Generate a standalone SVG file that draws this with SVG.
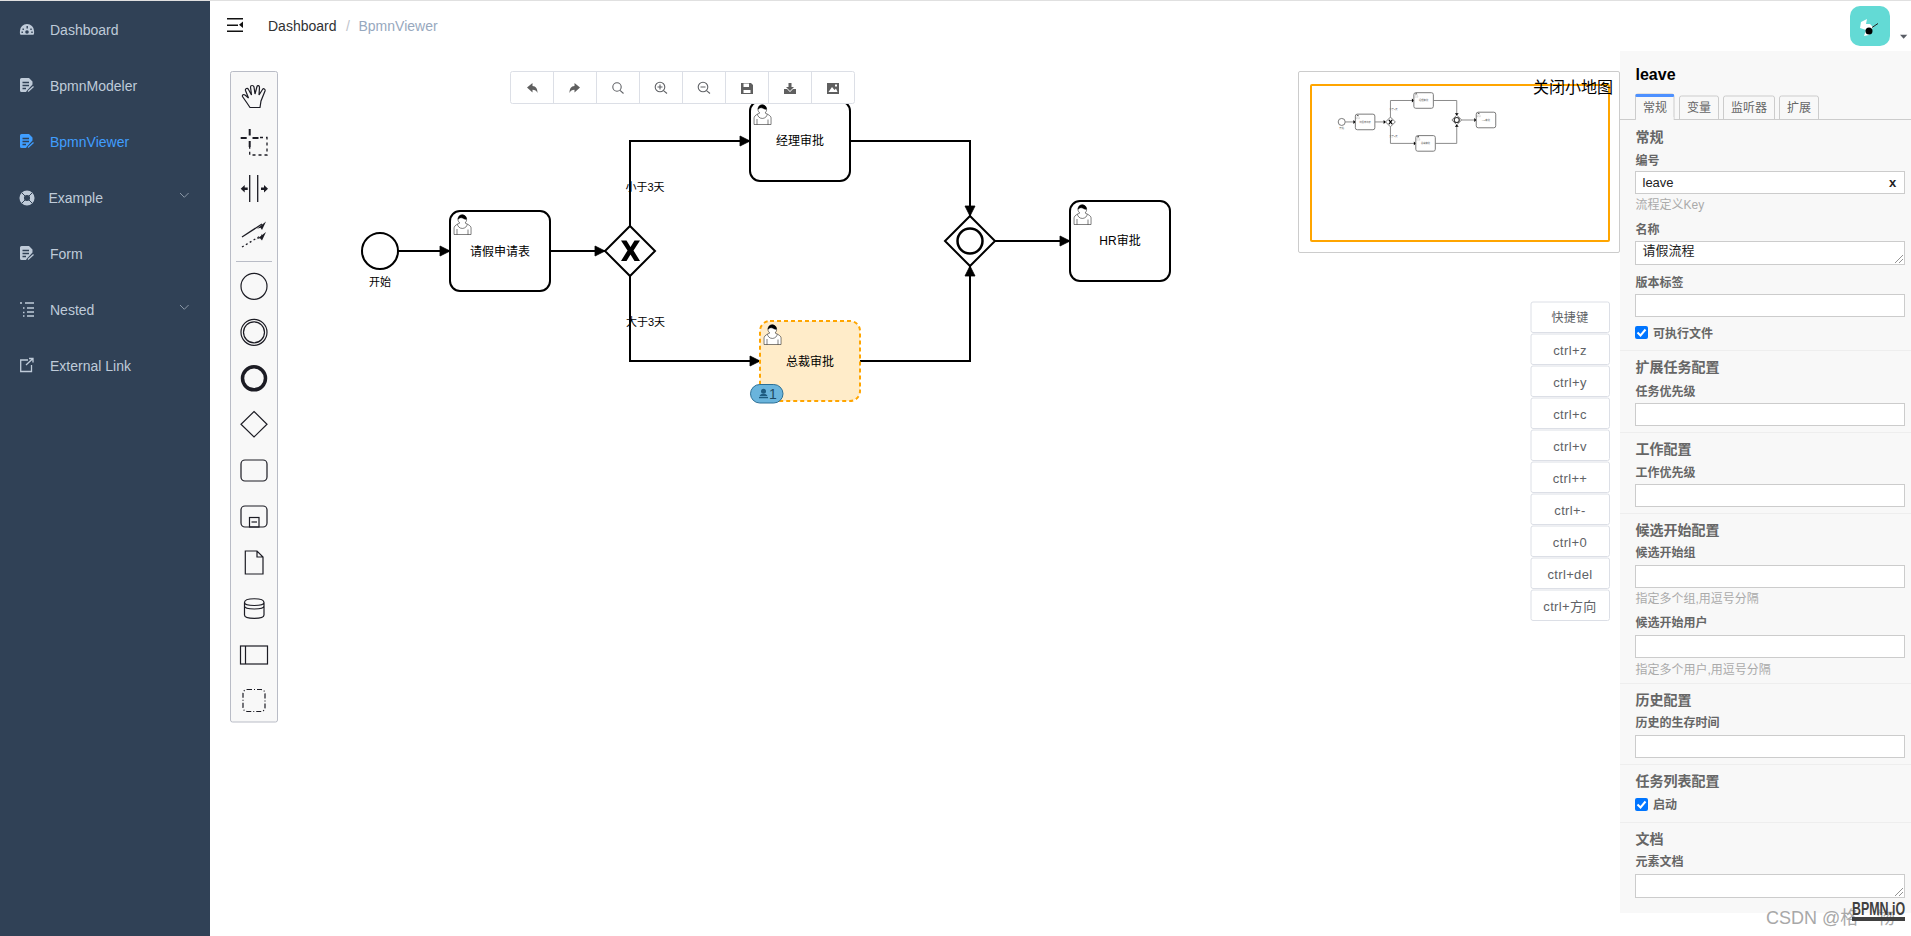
<svg xmlns="http://www.w3.org/2000/svg" xmlns:xlink="http://www.w3.org/1999/xlink" width="1911" height="936" viewBox="0 0 1911 936">
<style>
text{font-family:"Liberation Sans","Noto Sans CJK SC",sans-serif}
.nav{font-size:14px;fill:#bfcbd9}
.task{fill:#fff;stroke:#000;stroke-width:2}
.lb{font-size:12px;fill:#000;text-anchor:middle}
.lb11{font-size:11px;fill:#000;text-anchor:middle}
.conn{fill:none;stroke:#000;stroke-width:2;marker-end:url(#arrow)}
.ico{fill:none;stroke:#1c1c24;stroke-width:1.2}
.tb{fill:#5f5f5f}
.tbs{fill:none;stroke:#606266;stroke-width:1.1}
.sk{fill:#fff;stroke:#dcdfe6;stroke-width:1}
.skt{font-size:13px;fill:#606266;text-anchor:middle;letter-spacing:.35px}
.gh{font-size:14px;font-weight:bold;fill:#666}
.fl{font-size:12px;font-weight:bold;fill:#666}
.hint{font-size:12px;fill:#aaa}
.inp{fill:#fff;stroke:#ccc;stroke-width:1}
.div{stroke:#eee;stroke-width:1}
.tab{fill:#f8f8f8;stroke:#ccc;stroke-width:1}
.tabt{font-size:12px;fill:#666;text-anchor:middle}
.mini{fill:#fff;stroke:#777;stroke-width:5}
.minic{fill:none;stroke:#888;stroke-width:5}
.minit{font-size:12px;fill:#666;text-anchor:middle}
</style>
<defs>
<marker id="arrow" viewBox="0 0 20 20" markerUnits="userSpaceOnUse" markerWidth="20" markerHeight="20" refX="11" refY="10" orient="auto"><path d="M1 5L11 10L1 15Z" fill="#000" stroke="#000" stroke-width=".8"/></marker>
<marker id="miniarrow" viewBox="0 0 20 20" markerUnits="userSpaceOnUse" markerWidth="20" markerHeight="20" refX="11" refY="10" orient="auto"><path d="M1 5L11 10L1 15Z" fill="#000" stroke="#000"/></marker>
<g id="user">
<path fill="#fff" stroke="#000" stroke-width=".5" d="m0 0c.909-.845 1.594-2.049 1.594-3.385 0-2.554-1.805-4.622-4.357-4.622-2.552 0-4.288 2.068-4.288 4.622 0 1.348.974 2.562 1.896 3.405-.529.187-5.669 2.097-5.794 4.756v6.718h17v-6.718c0-2.298-5.528-4.595-6.051-4.776zm-8 6l0 5.5m11 0l0-5"/>
<path fill="#fff" stroke="#000" stroke-width=".5" d="m2.162 1.009c0 2.447-2.158 4.431-4.821 4.431-2.665 0-4.822-1.981-4.822-4.431"/>
<path fill="#000" stroke="#000" stroke-width=".5" d="m-6.9-3.8c0 0 2.251-2.358 4.274-1.177 2.024 1.181 4.221 1.537 4.124.965-.098-.57-.117-3.791-4.191-4.136-3.575.001-4.208 3.367-4.207 4.348z"/>
</g>
<g id="doc"><path fill="#bfcbd9" d="M0 1.5A1.5 1.5 0 0 1 1.5 0H9l3.5 3.5V6.5L7 12.5 6 14H1.5A1.5 1.5 0 0 1 0 12.5Z"/><path stroke="#304156" stroke-width="1.4" d="M2.5 4.5H9M2.5 7.5H9M2.5 10.5H6"/><path stroke="#bfcbd9" stroke-width="1.3" d="M8 13.5L13.5 8.5"/></g>
</defs>

<rect width="1911" height="936" fill="#fff"/>
<rect width="1911" height="1" fill="#e0e0e0"/>

<g id="sidebar">
<rect y="1" width="210" height="935" fill="#304156"/>
<g id="nav-dashboard"><path fill="#bfcbd9" d="M20.500 34.700c-1-1.500-.5-3-.5-4a7 6.700 0 0 1 14 0c0 1 .5 2.500-.5 4Z"/><path fill="#304156" d="M26.500 26h1.400v2.500h-1.400zM22.500 28.500h1.400v1.400h-1.400zM30.300 28.500h1.400v1.400h-1.400zM21.500 31.500h1.400v1.400h-1.400zM31.300 31.500h1.400v1.400h-1.400z"/><circle cx="27" cy="32" r="1.800" fill="#304156"/><text class="nav" x="50" y="35">Dashboard</text></g>
<g id="nav-modeler"><use href="#doc" x="20" y="78"/><text class="nav" x="50" y="91">BpmnModeler</text></g>
<g id="nav-viewer"><path fill="#409eff" d="M20 135.500A1.500 1.500 0 0 1 21.500 134H29l3.500 3.500V140.500L27 146.500 26 148H21.500A1.500 1.500 0 0 1 20 146.500Z"/><path stroke="#304156" stroke-width="1.400" d="M22.500 138.500H29M22.500 141.500H29M22.500 144.500H26"/><path stroke="#409eff" stroke-width="1.300" d="M28 147.500L33.500 142.500"/><text class="nav" x="50" y="147" style="fill:#409eff">BpmnViewer</text></g>
<g id="nav-example"><circle cx="27" cy="198" r="5.300" fill="none" stroke="#bfcbd9" stroke-width="4.500"/><path stroke="#304156" stroke-width="1" d="M22 193l3 3M32 193l-3 3M22 203l3-3M32 203l-3-3"/><text class="nav" x="48.500" y="203">Example</text><path fill="none" stroke="#8a97a6" stroke-width="1" d="M180 193l4.300 4.300 4.300-4.300"/></g>
<g id="nav-form"><use href="#doc" x="20" y="246"/><text class="nav" x="50" y="259">Form</text></g>
<g id="nav-nested"><path stroke="#bfcbd9" stroke-width="1.500" d="M20 303h2M25 303h9M27 308h7M27 312h7M27 316h7M23 308h1.500M23 312.500h1.500M23 316h1.500" fill="none"/><text class="nav" x="50" y="315">Nested</text><path fill="none" stroke="#8a97a6" stroke-width="1" d="M180 305l4.300 4.300 4.300-4.300"/></g>
<g id="nav-external"><path fill="none" stroke="#bfcbd9" stroke-width="1.300" d="M31.500 365v6.500H20.700V360H28M26 365l7-6.500M29 358.500h4v4"/><text class="nav" x="50" y="371">External Link</text></g>
</g>

<g id="header">
<path fill="#111" d="M227 18h16v1.500h-16zM227 24.500h11v1.500h-11zM227 30.500h16v1.500h-16zM243 21.500v6.500l-4-3.200z"/>
<text x="268" y="31" font-size="14" fill="#303133">Dashboard</text>
<text x="346" y="31" font-size="14" fill="#c0c4cc">/</text>
<text x="358.500" y="31" font-size="14" fill="#97a8be">BpmnViewer</text>
<g id="avatar"><rect x="1850" y="6" width="40" height="40" rx="10" fill="#63dad5"/><path fill="#fff" d="M1861 22L1867 19 1866 24 1870 24 1873 27 1869 35 1864 36 1866 30 1860 28Z"/><circle cx="1869" cy="31" r="3.500" fill="#000"/><path stroke="#222" stroke-width="1" d="M1872 27.500l6-4"/></g>
<path fill="#5a5e66" d="M1900 34.700h7.300l-3.650 4z"/>
</g>

<g id="palette">
<rect x="230.500" y="71.500" width="47" height="650.500" rx="2" fill="#f8f8f8" stroke="#b9bcc6"/>
<path class="ico" d="M250 107.500L247 103 242.500 96.500C242 95 243.500 94 245 95L248.500 98 245.500 90.500C245 88.500 247.500 87.500 248.500 89.500L251.500 95 250.500 87C250.500 85 253.500 85 254 87L255 94 257 86.500C257.500 85 259.500 85.500 259.500 87.500L259 95 262.500 89.500C263.500 88 265.500 89 265 91L261 101 260 107.500Z"/>
<path fill="none" stroke="#1c1c24" stroke-width="2" d="M240.700 138h6M252.500 138h6M249.700 129v6.500M249.700 141v6"/>
<path fill="none" stroke="#1c1c24" stroke-width="1.300" stroke-dasharray="3 3" d="M260 137.500H267V155H249.700V147"/>
<path fill="none" stroke="#1c1c24" stroke-width="1.300" d="M249.700 175V202M257.700 175V202"/>
<path fill="#1c1c24" d="M240.700 188.700l4-3.700v2.500h3v2.500h-3v2.500zM268 188.700l-4-3.700v2.500h-3v2.500h3v2.500z"/>
<path fill="none" stroke="#1c1c24" stroke-width="1.300" d="M242 237L262 224"/>
<path fill="#1c1c24" d="M266 221.500l-4 8.500-1.500-2.300-3.500 1z"/>
<path fill="none" stroke="#1c1c24" stroke-width="1.300" stroke-dasharray="2 2.500" d="M242 247L262 235"/>
<path fill="#1c1c24" d="M266 232l-4 8.500-2-2.300-3.500 1z"/>
<path stroke="#b9bcc6" d="M236 261.500H272"/>
<circle class="ico" cx="254" cy="286.300" r="13"/>
<circle class="ico" cx="254" cy="332.300" r="13"/><circle class="ico" cx="254" cy="332.300" r="10.500"/>
<circle class="ico" cx="254" cy="378.300" r="11.500" style="stroke-width:3.500"/>
<path class="ico" d="M254 411.500L267 424.300 254 437 241 424.300Z"/>
<rect class="ico" x="241" y="460" width="26" height="21" rx="4"/>
<rect class="ico" x="241" y="506" width="26" height="21" rx="4"/><rect class="ico" x="249.500" y="517.500" width="9.500" height="9.500"/><path class="ico" d="M251.500 522H257"/>
<path class="ico" d="M245.300 551H257L263 557V574H245.300ZM257 551V557H263"/>
<path class="ico" d="M244.500 602.500C244.500 597.500 264 597.500 264 602.500V615C264 619.500 244.500 619.500 244.500 615ZM244.500 602.500C244.500 606.500 264 606.500 264 602.500M244.500 606C244.500 610 264 610 264 606"/>
<rect class="ico" x="240.500" y="646" width="27" height="18"/><path class="ico" d="M245.500 646V664"/>
<rect class="ico" x="243" y="689.500" width="22" height="22" rx="4" stroke-dasharray="5 2 1 2"/>
</g>

<g id="connectors">
<path class="conn" d="M398 251H450"/>
<path class="conn" d="M550 251H605"/>
<path class="conn" d="M630 226V141H750"/>
<path class="conn" d="M630 276V361H760"/>
<path class="conn" d="M850 141H970V216"/>
<path class="conn" d="M860 361H970V266"/>
<path class="conn" d="M995 241H1070"/>
</g>

<g id="label-lt"><text class="lb11" x="645" y="191">小于3天</text></g>
<g id="label-gt"><text class="lb11" x="645.500" y="326">大于3天</text></g>

<g id="node-start"><circle cx="380" cy="251" r="18" fill="#fff" stroke="#000" stroke-width="2"/><text class="lb11" x="380" y="286">开始</text></g>
<g id="node-apply"><rect class="task" x="450" y="211" width="100" height="80" rx="10"/><use href="#user" x="465" y="223"/><text class="lb" x="500" y="255.500">请假申请表</text></g>
<g id="node-xor"><path d="M630 226L655 251 630 276 605 251Z" fill="#fff" stroke="#000" stroke-width="2"/><path fill="#000" d="M621 240.500H626.500L630.500 247 634.500 240.500H640L633.500 250.500 640 261H634.500L630.500 254.500 626.500 261H621L627.500 250.500Z"/></g>
<g id="node-manager"><rect class="task" x="750" y="101" width="100" height="80" rx="10"/><use href="#user" x="765" y="113"/><text class="lb" x="800" y="145">经理审批</text></g>
<g id="node-ceo"><rect x="760" y="321" width="100" height="80" rx="10" fill="#ffecc9" stroke="#ffa500" stroke-width="2" stroke-dasharray="4 3"/><use href="#user" x="775" y="333"/><text class="lb" x="810" y="365.500">总裁审批</text>
<g id="badge"><rect x="750.500" y="384.500" width="32.500" height="18.500" rx="9.250" fill="#6ab4dc" stroke="#2a6f96"/><circle cx="763.500" cy="391.300" r="2.500" fill="#1d5b80"/><path fill="#1d5b80" d="M759.500 396.200c.5-1.800 2-2.200 3-2.200h2c1 0 2.500.4 3 2.200zM759 397h9v1.200h-9z"/><text x="769" y="398.500" font-size="14" fill="#1f4a63">1</text></g></g>
<g id="node-or"><path d="M970 216L995 241 970 266 945 241Z" fill="#fff" stroke="#000" stroke-width="2"/><circle cx="970" cy="241" r="12.500" fill="none" stroke="#000" stroke-width="2.500"/></g>
<g id="node-hr"><rect class="task" x="1070" y="201" width="100" height="80" rx="10"/><use href="#user" x="1085" y="213"/><text class="lb" x="1120" y="245">HR审批</text></g>

<g id="toolbar">
<rect x="510.500" y="71.500" width="344" height="32" rx="2" fill="#fff" stroke="#dcdfe6"/>
<path stroke="#dcdfe6" d="M553.500 72V103M596.500 72V103M639.500 72V103M682.500 72V103M725.500 72V103M768.500 72V103M811.500 72V103"/>
<path class="tb" d="M527 87.500L532.500 83v3c3.500 0 5 3 5 7-1-2.500-2.500-3.300-5-3.300V92.500Z"/>
<path class="tb" d="M580 87.500L574.500 83v3c-3.500 0-5 3-5 7 1-2.500 2.500-3.300 5-3.300V92.500Z"/>
<circle class="tbs" cx="617" cy="87" r="4.200"/><path class="tbs" d="M620 90.300L623.500 93.500"/>
<circle class="tbs" cx="660" cy="87" r="4.800"/><path class="tbs" d="M663.500 90.600L667 93.500M657.500 87H662.500M660 84.500V89.500"/>
<circle class="tbs" cx="703" cy="87" r="4.800"/><path class="tbs" d="M706.500 90.600L710 93.500M700.500 87H705.500"/>
<path class="tb" d="M741 83H751L753 85V94H741Z"/><path fill="#fff" d="M743.500 83.500H749V87H743.500ZM743.500 90H750.500V93H743.500Z"/>
<path class="tb" d="M784 89H787L790 92 793 89H796V94H784Z"/><path class="tb" d="M788.500 83H791.500V87H794L790 91 786 87H788.500Z"/>
<path class="tb" d="M827 83H839V94H827Z"/><path fill="#fff" d="M828.500 92L832 87 834.500 90 836 88.500 837.500 92ZM835 84.500h2v2h-2z"/>
</g>

<g id="minimap">
<rect x="1298.500" y="71.500" width="321" height="181" rx="1.500" fill="#fff" stroke="#ccc"/>
<g transform="translate(1267.600 73) scale(.195)">
<path class="minic" d="M398 251H450M550 251H605M630 226V141H750M630 276V361H760M850 141H970V216M860 361H970V266M995 241H1070"/>
<path d="M440 241l12 10-12 10zM595 241l12 10-12 10zM740 131l12 10-12 10zM750 351l12 10-12 10zM960 206l10 12 10-12zM960 276l10-12 10 12zM1060 231l12 10-12 10z" fill="#000"/>
<circle class="mini" cx="380" cy="251" r="18"/>
<rect class="mini" x="450" y="211" width="100" height="80" rx="10"/><rect class="mini" x="750" y="101" width="100" height="80" rx="10"/><rect class="mini" x="760" y="321" width="100" height="80" rx="10"/><rect class="mini" x="1070" y="201" width="100" height="80" rx="10"/>
<path class="mini" d="M630 226L655 251 630 276 605 251ZM970 216L995 241 970 266 945 241Z"/>
<path d="M622 240L639 262M639 240L622 262" stroke="#000" stroke-width="6"/>
<circle class="minic" cx="970" cy="241" r="13" style="stroke:#333;stroke-width:6"/>
<use href="#user" x="465" y="223"/><use href="#user" x="765" y="113"/><use href="#user" x="775" y="333"/><use href="#user" x="1085" y="213"/>
<text class="minit" x="380" y="286">开始</text><text class="minit" x="500" y="255">请假申请表</text><text class="minit" x="800" y="145">经理审批</text><text class="minit" x="810" y="365">总裁审批</text><text class="minit" x="1120" y="245">HR审批</text><text class="minit" x="645" y="191">小于3天</text><text class="minit" x="645" y="326">大于3天</text>
</g>
<rect x="1311" y="85" width="298" height="156" rx="1" fill="none" stroke="#ffa500" stroke-width="2"/>
<text x="1533" y="92.500" font-size="16" fill="#000">关闭小地图</text>
</g>

<g id="shortcuts">
<rect class="sk" x="1531" y="302" width="78.500" height="30.500" rx="2"/><text class="skt" x="1570" y="322" style="font-size:12px">快捷键</text>
<rect class="sk" x="1531" y="334" width="78.500" height="30.500" rx="2"/><text class="skt" x="1570" y="354.500">ctrl+z</text>
<rect class="sk" x="1531" y="366" width="78.500" height="30.500" rx="2"/><text class="skt" x="1570" y="386.500">ctrl+y</text>
<rect class="sk" x="1531" y="398" width="78.500" height="30.500" rx="2"/><text class="skt" x="1570" y="418.500">ctrl+c</text>
<rect class="sk" x="1531" y="430" width="78.500" height="30.500" rx="2"/><text class="skt" x="1570" y="450.500">ctrl+v</text>
<rect class="sk" x="1531" y="462" width="78.500" height="30.500" rx="2"/><text class="skt" x="1570" y="482.500">ctrl++</text>
<rect class="sk" x="1531" y="494" width="78.500" height="30.500" rx="2"/><text class="skt" x="1570" y="514.500">ctrl+-</text>
<rect class="sk" x="1531" y="526" width="78.500" height="30.500" rx="2"/><text class="skt" x="1570" y="546.500">ctrl+0</text>
<rect class="sk" x="1531" y="558" width="78.500" height="30.500" rx="2"/><text class="skt" x="1570" y="578.500">ctrl+del</text>
<rect class="sk" x="1531" y="590" width="78.500" height="30.500" rx="2"/><text class="skt" x="1570" y="610.500">ctrl+方向</text>
</g>

<g id="properties">
<rect x="1620" y="51" width="291" height="862" fill="#f8f8f8"/>
<text x="1635.500" y="80" font-size="16" font-weight="bold" fill="#000">leave</text>
<path stroke="#ccc" d="M1620 119.500H1911"/>
<path class="tab" d="M1635.500 119.500V96a2 2 0 0 1 2-2H1672a2 2 0 0 1 2 2V119.500"/><rect x="1635.500" y="94" width="38.500" height="3" rx="1" fill="#4d90ff"/><rect x="1636" y="117" width="37.500" height="3" fill="#f8f8f8"/>
<text class="tabt" x="1655" y="111.500">常规</text>
<path class="tab" d="M1679.500 119V98a2 2 0 0 1 2-2H1716.500a2 2 0 0 1 2 2V119"/><text class="tabt" x="1699" y="111.500">变量</text>
<path class="tab" d="M1723.500 119V98a2 2 0 0 1 2-2H1772.500a2 2 0 0 1 2 2V119"/><text class="tabt" x="1749" y="111.500">监听器</text>
<path class="tab" d="M1779.500 119V98a2 2 0 0 1 2-2H1816.500a2 2 0 0 1 2 2V119"/><text class="tabt" x="1799" y="111.500">扩展</text>

<text class="gh" x="1635.500" y="141.500">常规</text>
<text class="fl" x="1635.500" y="164.500">编号</text>
<rect class="inp" x="1635.500" y="171.500" width="269" height="22"/>
<text x="1642.500" y="187" font-size="13" fill="#222">leave</text>
<text x="1889" y="187" font-size="13" font-weight="bold" fill="#222">x</text>
<text class="hint" x="1635.500" y="209">流程定义Key</text>
<text class="fl" x="1635.500" y="233.500">名称</text>
<rect class="inp" x="1635.500" y="241.500" width="269" height="23"/>
<text x="1642.500" y="255" font-size="13" fill="#222">请假流程</text>
<path stroke="#777" stroke-width=".8" d="M1895 263L1903 255M1899 263L1903 259"/>
<text class="fl" x="1635.500" y="286.500">版本标签</text>
<rect class="inp" x="1635.500" y="294.500" width="269" height="22"/>
<rect x="1635" y="326" width="13" height="13" rx="2" fill="#0075ff"/><path d="M1637.500 332.500L1640.500 335.500 1645.500 329.500" fill="none" stroke="#fff" stroke-width="2"/>
<text class="fl" x="1653" y="337.500">可执行文件</text>
<path class="div" d="M1620 350.500H1911"/>
<text class="gh" x="1635.500" y="372">扩展任务配置</text>
<text class="fl" x="1635.500" y="395.500">任务优先级</text>
<rect class="inp" x="1635.500" y="403.500" width="269" height="22"/>
<path class="div" d="M1620 432.500H1911"/>
<text class="gh" x="1635.500" y="454">工作配置</text>
<text class="fl" x="1635.500" y="476.500">工作优先级</text>
<rect class="inp" x="1635.500" y="484.500" width="269" height="22"/>
<path class="div" d="M1620 513.500H1911"/>
<text class="gh" x="1635.500" y="535">候选开始配置</text>
<text class="fl" x="1635.500" y="556.500">候选开始组</text>
<rect class="inp" x="1635.500" y="565.500" width="269" height="22"/>
<text class="hint" x="1635.500" y="603">指定多个组,用逗号分隔</text>
<text class="fl" x="1635.500" y="626.500">候选开始用户</text>
<rect class="inp" x="1635.500" y="635.500" width="269" height="22"/>
<text class="hint" x="1635.500" y="673.500">指定多个用户,用逗号分隔</text>
<path class="div" d="M1620 683.500H1911"/>
<text class="gh" x="1635.500" y="705">历史配置</text>
<text class="fl" x="1635.500" y="726.500">历史的生存时间</text>
<rect class="inp" x="1635.500" y="735.500" width="269" height="22"/>
<path class="div" d="M1620 764.500H1911"/>
<text class="gh" x="1635.500" y="786">任务列表配置</text>
<rect x="1635" y="798" width="13" height="13" rx="2" fill="#0075ff"/><path d="M1637.500 804.500L1640.500 807.500 1645.500 801.500" fill="none" stroke="#fff" stroke-width="2"/>
<text class="fl" x="1653" y="808.500">启动</text>
<path class="div" d="M1620 822.500H1911"/>
<text class="gh" x="1635.500" y="844">文档</text>
<text class="fl" x="1635.500" y="866">元素文档</text>
<rect class="inp" x="1635.500" y="874.500" width="269" height="23"/>
<path stroke="#777" stroke-width=".8" d="M1895 896L1903 888M1899 896L1903 892"/>
</g>

<g id="watermark">
<text x="1766" y="924" font-size="18" fill="#a8a8a8">CSDN @格</text>
<text x="1877" y="924" font-size="18" fill="#a8a8a8">物</text>
</g>
<g id="logo">
<text transform="translate(1852 915) scale(.69 1)" font-size="18" font-weight="bold" fill="#404040">BPMN.iO</text>
<rect x="1852" y="917" width="53" height="4" fill="#404040"/>
</g>
</svg>
